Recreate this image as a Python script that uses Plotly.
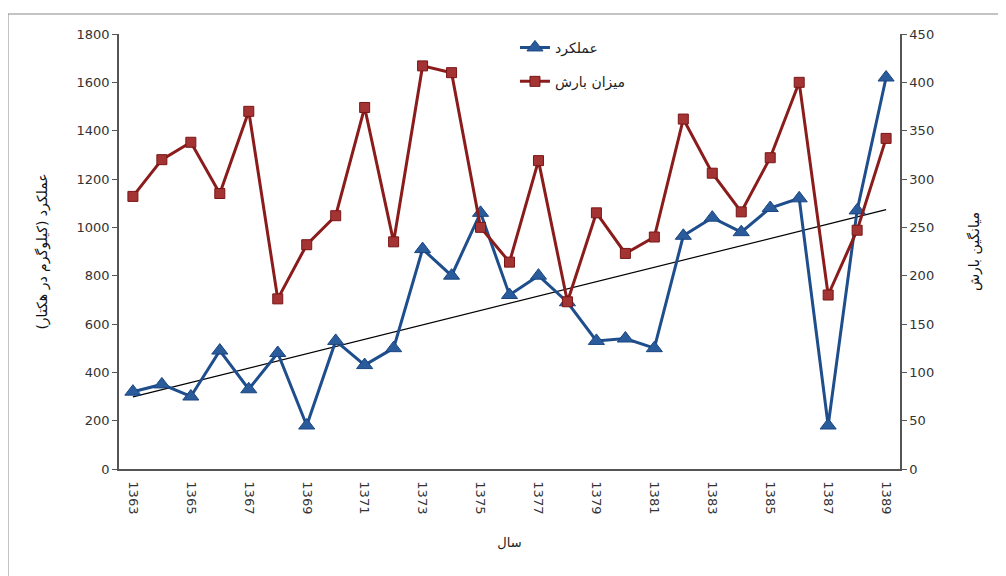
import numpy as np
import plotly.graph_objects as go

years = list(range(1363, 1390))
yield_kg = [320, 350, 300, 490, 330, 480, 180, 530, 430, 500, 910, 800, 1060, 720,
            800, 690, 530, 540, 500, 965, 1040, 980, 1080, 1120, 180, 1070, 1620]
rain_mm = [282, 320, 338, 285, 370, 176, 232, 262, 374, 235, 417, 410, 250, 214,
           319, 173, 265, 223, 240, 362, 306, 266, 322, 400, 180, 247, 342]

yield_name = "عملکرد"
rain_name = "میزان بارش"
left_title = "عملکرد (کیلوگرم در هکتار)"
right_title = "میانگین بارش"
x_title = "سال"

blue = "#1F4E8C"
red = "#8B1C1C"
font = "DejaVu Sans"

coef = np.polyfit(years, yield_kg, 1)
trend = np.polyval(coef, years)

fig = go.Figure()
fig.add_trace(go.Scatter(
    x=years, y=trend, mode="lines", line=dict(color="black", width=1.2),
    showlegend=False, hoverinfo="skip"))
fig.add_trace(go.Scatter(
    x=years, y=rain_mm, yaxis="y2", name=rain_name, mode="lines+markers",
    line=dict(color=red, width=3),
    marker=dict(symbol="square", size=10, color="#A43434", line=dict(color="#7A1515", width=1)),
    legend="legend2"))
fig.add_trace(go.Scatter(
    x=years, y=yield_kg, name=yield_name, mode="lines+markers",
    line=dict(color=blue, width=3),
    marker=dict(symbol="triangle-up", size=14, color="#2A5C9C", line=dict(color="#1A4580", width=1)),
    legend="legend"))

axis_common = dict(showgrid=False, zeroline=False, showline=True, linecolor="#555555",
                   linewidth=1.5, ticks="outside", ticklen=5, tickcolor="#555555",
                   tickfont=dict(family=font, size=13, color="#333333"))

L, T, PW, PH = 111, 26, 781, 435

fig.update_layout(
    width=1006, height=576,
    paper_bgcolor="white", plot_bgcolor="white",
    margin=dict(l=L, r=1006 - L - PW, t=T, b=576 - T - PH),
    font=dict(family=font),
    xaxis=dict(range=[1362.52, 1389.48], tickmode="linear", tick0=1363, dtick=2,
               tickangle=90, ticklen=0, ticks="", ticklabelstandoff=8,
               showgrid=False, zeroline=False,
               showline=True, linecolor="#555555", linewidth=1.5,
               tickfont=dict(family=font, size=13, color="#333333"),
               title=dict(text=x_title, font=dict(family=font, size=13, color="#222222"),
                          standoff=24)),
    yaxis=dict(range=[0, 1800], dtick=200,
               title=dict(text=left_title, font=dict(family=font, size=14, color="#111111"),
                          standoff=26),
               **axis_common),
    yaxis2=dict(range=[0, 450], dtick=50, overlaying="y", side="right",
                title=dict(text=right_title, font=dict(family=font, size=14, color="#111111"),
                           standoff=36),
                **axis_common),
    legend=dict(x=0.507, y=1.005, xanchor="left", yanchor="top",
                bgcolor="rgba(0,0,0,0)", font=dict(family=font, size=14, color="#222222")),
    legend2=dict(x=0.507, y=0.927, xanchor="left", yanchor="top",
                 bgcolor="rgba(0,0,0,0)", font=dict(family=font, size=14, color="#222222")),
    shapes=[dict(type="rect", xref="paper", yref="paper",
                 x0=(0 - L) / PW, x1=(996 - L) / PW,
                 y0=-0.4, y1=(T + PH - 6) / PH,
                 line=dict(color="#888888", width=1), layer="below")],
)

fig.write_html("out.html")
